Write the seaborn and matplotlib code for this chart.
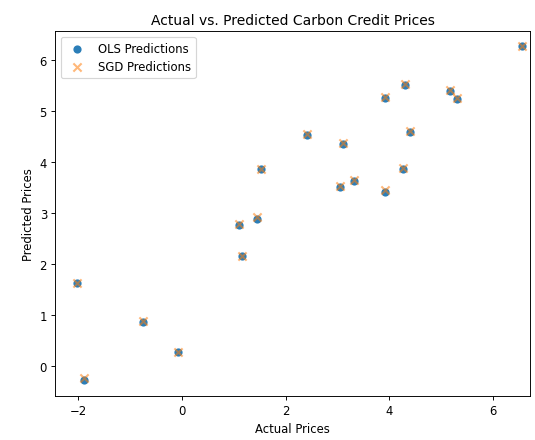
import numpy as np
import pandas as pd
import matplotlib
matplotlib.use("Agg")
import matplotlib.pyplot as plt
import seaborn as sns

# --- DATA ---
actual = [-2.02, -1.89, -0.75, -0.08, 1.10, 1.15, 1.44, 1.52, 2.41, 3.05,
          3.10, 3.31, 3.91, 3.91, 4.26, 4.31, 4.39, 5.18, 5.31, 6.56]
ols_pred = [1.62, -0.27, 0.86, 0.28, 2.77, 2.15, 2.88, 3.86, 4.54, 3.51,
            4.36, 3.62, 5.25, 3.42, 3.87, 5.52, 4.60, 5.40, 5.23, 6.27]
sgd_pred = [1.62, -0.23, 0.89, 0.28, 2.78, 2.16, 2.92, 3.87, 4.55, 3.53,
            4.38, 3.64, 5.27, 3.46, 3.89, 5.53, 4.62, 5.41, 5.25, 6.28]

df = pd.DataFrame({"actual": actual, "ols": ols_pred, "sgd": sgd_pred})

# --- PLOT ---
fig = plt.figure(figsize=(6.4, 5.275), dpi=83.6)
ax = fig.add_axes([0.103, 0.10, 0.888, 0.827])

sns.scatterplot(data=df, x="actual", y="ols", marker="o", color="C0",
                alpha=0.95, s=50, linewidth=0, label="OLS Predictions", ax=ax)
sns.scatterplot(data=df, x="actual", y="sgd", marker="x", color="C1",
                alpha=0.55, s=50, linewidth=1.8, label="SGD Predictions", ax=ax)

ax.set_title("Actual vs. Predicted Carbon Credit Prices")
ax.set_xlabel("Actual Prices")
ax.set_ylabel("Predicted Prices")
ax.set_xlim(-2.45, 6.72)
ax.set_ylim(-0.59, 6.57)
ax.legend(loc="upper left")

fig.savefig("out.png", dpi=83.6)
